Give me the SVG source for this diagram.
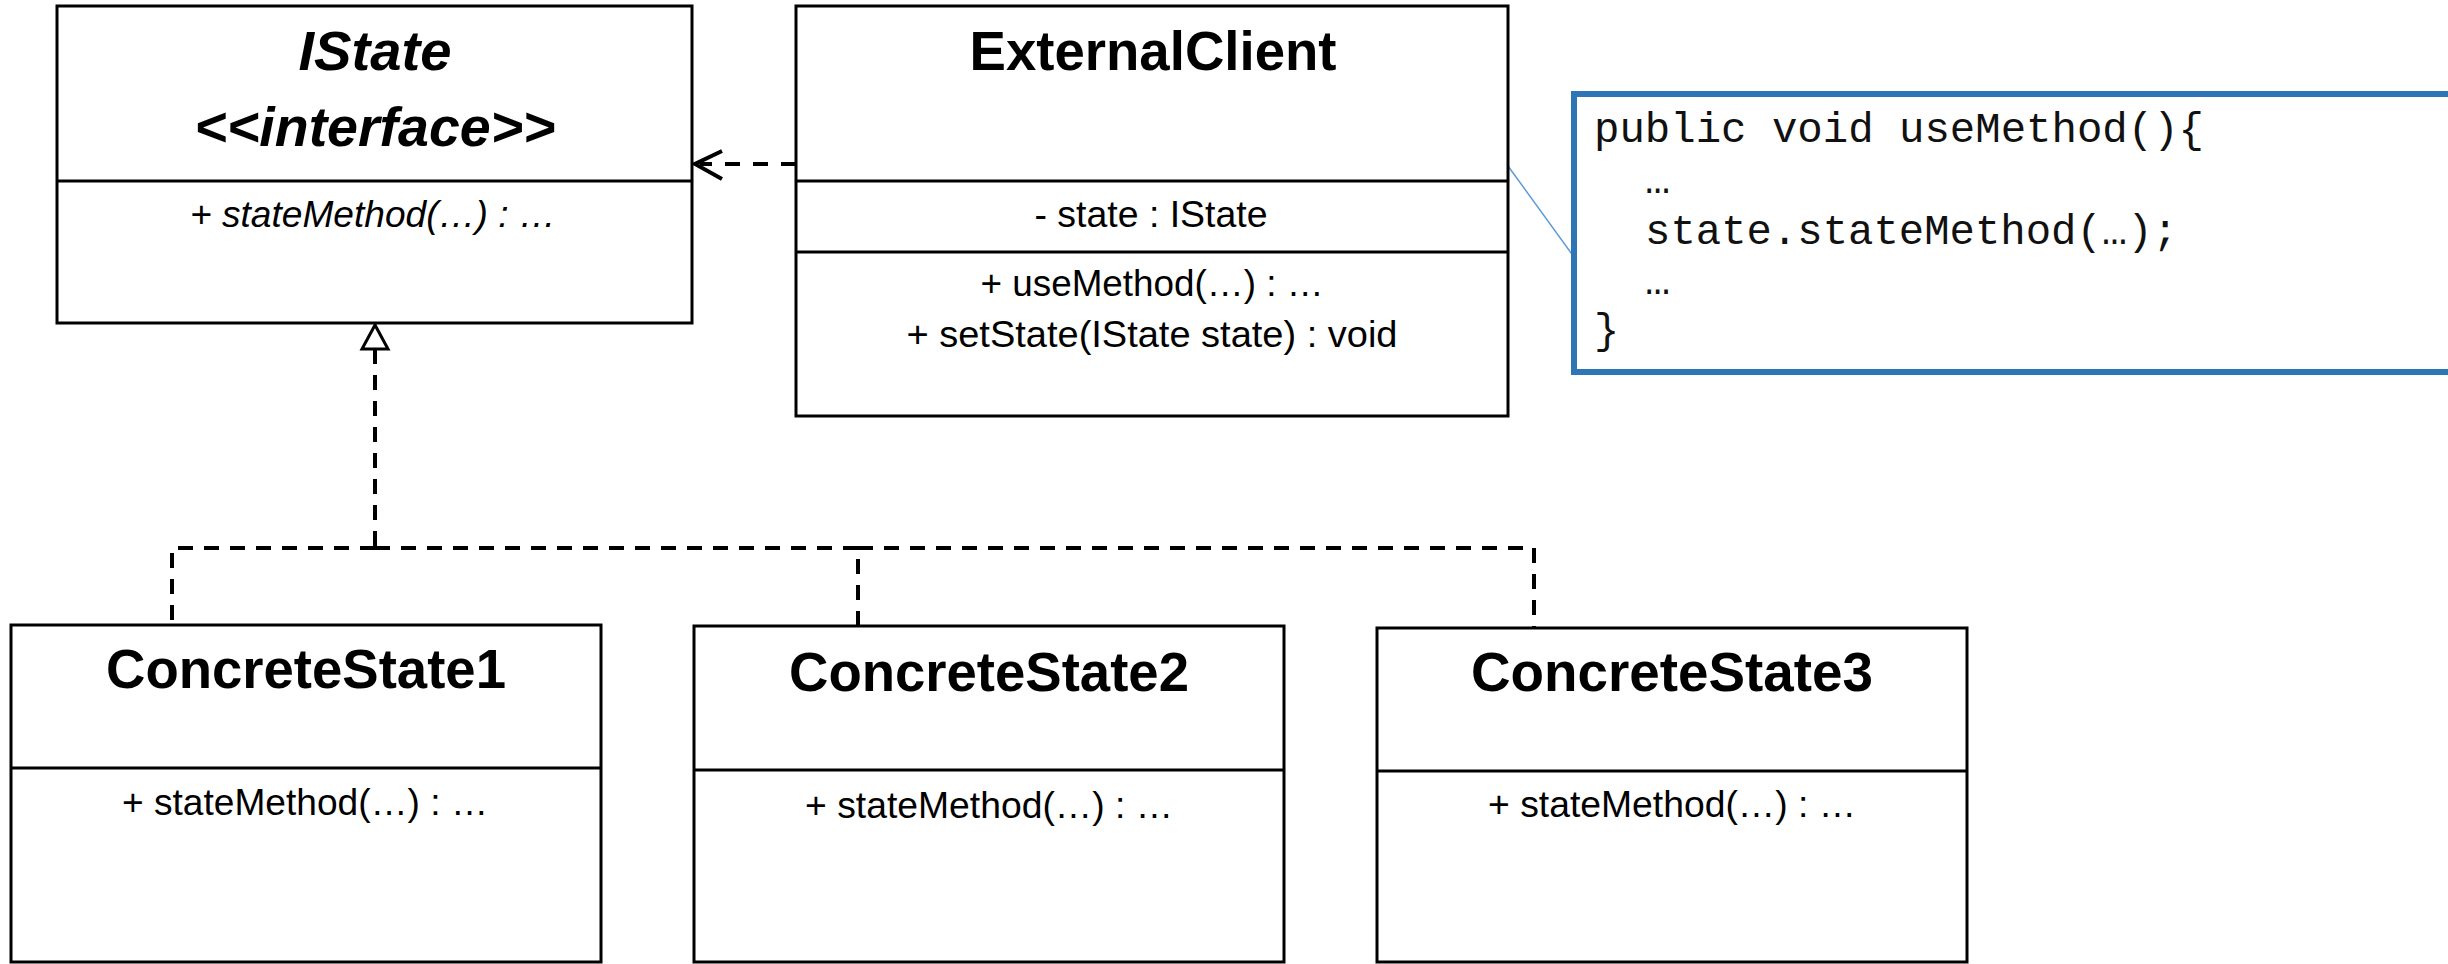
<svg xmlns="http://www.w3.org/2000/svg" width="2448" height="964" viewBox="0 0 2448 964">
<defs>
<style>
.box{fill:#fff;stroke:#000;stroke-width:3}
.div{stroke:#000;stroke-width:3}
.t{font-family:"Liberation Sans",Arial,sans-serif;fill:#000;text-anchor:middle}
.title{font-size:55px;font-weight:bold}
.body{font-size:36px}
.it{font-style:italic}
.dash{fill:none;stroke:#000;stroke-width:4;stroke-dasharray:15 11}
.code{font-family:"Liberation Mono","Courier New",monospace;font-size:42px;fill:#111}
</style>
</defs>
<rect width="2448" height="964" fill="#fff"/>
<g id="connectors">
<path class="dash" d="M796,164 H700" style="stroke-dasharray:15 13"/>
<polyline points="722,151 695,164 722,179" fill="none" stroke="#000" stroke-width="4" stroke-linejoin="miter"/>
<path class="dash" d="M375,349 V548"/>
<path class="dash" d="M375,548 H172 V625"/>
<path class="dash" d="M375,548 H858 V626"/>
<path class="dash" d="M858,548 H1534 V628"/>
<polygon points="375,325 362,349 388,349" fill="#fff" stroke="#000" stroke-width="3"/>
<line x1="1508" y1="166" x2="1574" y2="257" stroke="#5B9BD5" stroke-width="1.5"/>
</g>
<g id="IState">
<rect class="box" x="57" y="6" width="635" height="317"/>
<line class="div" x1="57" y1="181" x2="692" y2="181"/>
<text class="t title it" x="375" y="70" textLength="153" lengthAdjust="spacingAndGlyphs">IState</text>
<text class="t title it" x="375" y="146" textLength="361" lengthAdjust="spacingAndGlyphs">&lt;&lt;interface&gt;&gt;</text>
<text class="t body it" x="373" y="227" textLength="366" lengthAdjust="spacingAndGlyphs">+ stateMethod(…) : …</text>
</g>
<g id="ExternalClient">
<rect class="box" x="796" y="6" width="712" height="410"/>
<line class="div" x1="796" y1="181" x2="1508" y2="181"/>
<line class="div" x1="796" y1="252" x2="1508" y2="252"/>
<text class="t title" x="1153" y="70" textLength="367" lengthAdjust="spacingAndGlyphs">ExternalClient</text>
<text class="t body" x="1151" y="227" textLength="233" lengthAdjust="spacingAndGlyphs">- state : IState</text>
<text class="t body" x="1152" y="296" textLength="343" lengthAdjust="spacingAndGlyphs">+ useMethod(…) : …</text>
<text class="t body" x="1152" y="347" textLength="491" lengthAdjust="spacingAndGlyphs">+ setState(IState state) : void</text>
</g>
<g id="CodeNote">
<rect x="1574" y="94" width="900" height="278" fill="#fff" stroke="#2E75B6" stroke-width="6"/>
<text class="code" x="1594" y="142" textLength="610" lengthAdjust="spacingAndGlyphs">public void useMethod(){</text>
<text class="code" x="1645" y="193">…</text>
<text class="code" x="1645" y="244" textLength="533" lengthAdjust="spacingAndGlyphs">state.stateMethod(…);</text>
<text class="code" x="1645" y="294">…</text>
<text class="code" x="1594" y="343">}</text>
</g>
<g id="ConcreteState1">
<rect class="box" x="11" y="625" width="590" height="337"/>
<line class="div" x1="11" y1="768" x2="601" y2="768"/>
<text class="t title" x="306" y="688" textLength="400" lengthAdjust="spacingAndGlyphs">ConcreteState1</text>
<text class="t body" x="305" y="815" textLength="366" lengthAdjust="spacingAndGlyphs">+ stateMethod(…) : …</text>
</g>
<g id="ConcreteState2">
<rect class="box" x="694" y="626" width="590" height="336"/>
<line class="div" x1="694" y1="770" x2="1284" y2="770"/>
<text class="t title" x="989" y="691" textLength="400" lengthAdjust="spacingAndGlyphs">ConcreteState2</text>
<text class="t body" x="989" y="818" textLength="368" lengthAdjust="spacingAndGlyphs">+ stateMethod(…) : …</text>
</g>
<g id="ConcreteState3">
<rect class="box" x="1377" y="628" width="590" height="334"/>
<line class="div" x1="1377" y1="771" x2="1967" y2="771"/>
<text class="t title" x="1672" y="691" textLength="402" lengthAdjust="spacingAndGlyphs">ConcreteState3</text>
<text class="t body" x="1672" y="817" textLength="368" lengthAdjust="spacingAndGlyphs">+ stateMethod(…) : …</text>
</g>
</svg>
